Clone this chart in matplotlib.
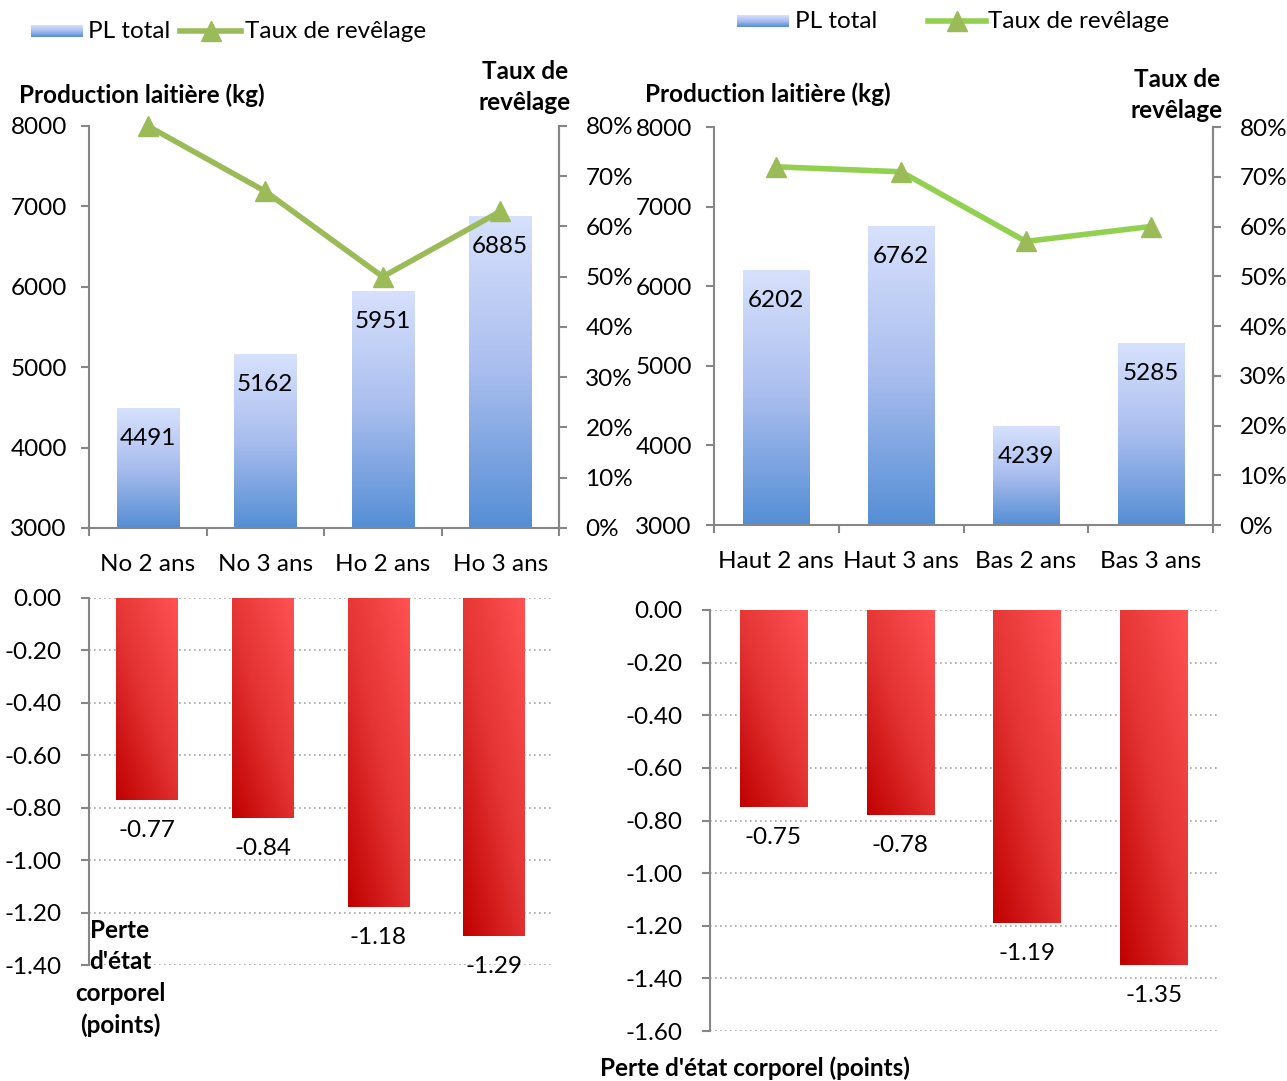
import numpy as np
import matplotlib
matplotlib.use("Agg")
import matplotlib.pyplot as plt
from matplotlib.colors import LinearSegmentedColormap
from matplotlib.lines import Line2D

plt.rcParams['font.family'] = ['Lato', 'DejaVu Sans']

# ---------------- data ----------------
cats_left = ["No 2 ans", "No 3 ans", "Ho 2 ans", "Ho 3 ans"]
pl_left = [4491, 5162, 5951, 6885]
taux_left = [80, 67, 50, 63]
perte_left = [-0.77, -0.84, -1.18, -1.29]

cats_right = ["Haut 2 ans", "Haut 3 ans", "Bas 2 ans", "Bas 3 ans"]
pl_right = [6202, 6762, 4239, 5285]
taux_right = [72, 71, 57, 60]
perte_right = [-0.75, -0.78, -1.19, -1.35]

pl_ticks = [3000, 4000, 5000, 6000, 7000, 8000]
taux_ticks = [0, 10, 20, 30, 40, 50, 60, 70, 80]
perte_ticks_left = [0.0, -0.2, -0.4, -0.6, -0.8, -1.0, -1.2, -1.4]
perte_ticks_right = [0.0, -0.2, -0.4, -0.6, -0.8, -1.0, -1.2, -1.4, -1.6]

# ---------------- style ----------------
W, H = 1287, 1081
fig = plt.figure(figsize=(W / 100, H / 100), dpi=100)
FS = 17.5
GRAY = "#868686"
blue_cmap = LinearSegmentedColormap.from_list("b", ["#558ed5", "#a9bdee", "#d7e1fd"])
red_cmap = LinearSegmentedColormap.from_list("r", ["#c00000", "#e43434", "#ff5252"])


def fax(x0, y0, x1, y1):
    return [x0 / W, 1 - y1 / H, (x1 - x0) / W, (y1 - y0) / H]


def gradient_bars(ax, bars, cmap, kind):
    for b in bars:
        x0, y0 = b.get_x(), b.get_y()
        w, h = b.get_width(), b.get_height()
        n = 200
        yy, xx = np.mgrid[0:1:n * 1j, 0:1:n * 1j]
        if kind == "v":
            z = yy  # 0 bottom -> 1 top
        else:
            z = 0.45 * xx + 0.55 * yy
        ylo, yhi = min(y0, y0 + h), max(y0, y0 + h)
        im = ax.imshow(z, cmap=cmap, origin="lower", aspect="auto",
                       extent=(x0, x0 + w, ylo, yhi), vmin=0, vmax=1, zorder=2,
                       interpolation="bilinear")
        im.set_clip_path(b)
        b.set_facecolor("none")
        b.set_edgecolor("none")


def style_spines(ax, pad):
    for s in ax.spines.values():
        s.set_color(GRAY)
        s.set_linewidth(1.5)
    ax.tick_params(colors=GRAY, labelcolor="black", labelsize=FS, width=1.5, length=6)
    ax.tick_params(axis="y", pad=pad)


def top_chart(rect, cats, pl, taux, line_color, mark_color):
    ax = fig.add_axes(rect)
    x = np.arange(len(cats))
    bars = ax.bar(x, [v - 3000 for v in pl], bottom=3000, width=0.53)
    gradient_bars(ax, bars, blue_cmap, "v")
    ax.set_xlim(-0.5, len(cats) - 0.5)
    ax.set_ylim(3000, 8000)
    ax.set_yticks(pl_ticks)
    ax.set_yticklabels([str(t) for t in pl_ticks])
    ax.set_xticks(np.arange(-0.5, len(cats), 1.0))
    ax.set_xticklabels([])
    ax.set_xticks(x, minor=True)
    ax.set_xticklabels(cats, minor=True, fontsize=FS)
    ax.spines["top"].set_visible(False)
    style_spines(ax, 10)
    ax.tick_params(axis="x", which="minor", length=0, pad=19)
    for xi, v in zip(x, pl):
        ax.annotate(str(v), (xi, v), xytext=(0, -22), textcoords="offset points",
                    ha="center", va="center", fontsize=FS, zorder=5)
    ax2 = ax.twinx()
    ax2.plot(x, taux, color=line_color, lw=4, marker="^", markersize=14,
             markerfacecolor=mark_color, markeredgecolor=mark_color, zorder=6,
             clip_on=False)
    ax2.set_ylim(0, 80)
    ax2.set_yticks(taux_ticks)
    ax2.set_yticklabels([f"{t}%" for t in taux_ticks])
    ax2.spines["top"].set_visible(False)
    style_spines(ax2, 13)
    ax2.spines["left"].set_visible(False)
    ax2.spines["bottom"].set_visible(False)
    return ax, ax2


def bottom_chart(rect, perte, ticks, ymin):
    ax = fig.add_axes(rect)
    x = np.arange(len(perte))
    bars = ax.bar(x, perte, width=0.53)
    gradient_bars(ax, bars, red_cmap, "d")
    ax.set_xlim(-0.5, len(perte) - 0.5)
    ax.set_ylim(ymin, 0)
    ax.set_yticks(ticks)
    ax.set_yticklabels([f"{t:.2f}" for t in ticks])
    ax.set_xticks([])
    for s in ["top", "right", "bottom"]:
        ax.spines[s].set_visible(False)
    style_spines(ax, 14)
    ax.grid(axis="y", color="#a6a6a6", linestyle=(0, (1, 2)), lw=1.2, zorder=0)
    ax.set_axisbelow(True)
    for xi, v in zip(x, perte):
        ax.annotate(f"{v:.2f}", (xi, v), xytext=(0, -22), textcoords="offset points",
                    ha="center", va="center", fontsize=FS, zorder=5,
                    annotation_clip=False)
    return ax


top_chart(fax(89, 126, 559, 528), cats_left, pl_left, taux_left, "#9bbb59", "#9bbb59")
top_chart(fax(714, 127, 1213, 525), cats_right, pl_right, taux_right, "#92d050", "#9bbb59")
bottom_chart(fax(89, 598, 552, 965), perte_left, perte_ticks_left, -1.4)
bottom_chart(fax(710, 610, 1217, 1031), perte_right, perte_ticks_right, -1.6)

# axis titles
def ftext(x, y, s, **kw):
    fig.text(x / W, 1 - y / H, s, fontsize=FS, **kw)

ftext(19, 95, "Production laitière (kg)", fontweight="bold", ha="left", va="center")
ftext(525, 87, "Taux de\nrevêlage", fontweight="bold", ha="center", va="center", linespacing=1.45)
ftext(645, 94, "Production laitière (kg)", fontweight="bold", ha="left", va="center")
ftext(1177, 95, "Taux de\nrevêlage", fontweight="bold", ha="center", va="center", linespacing=1.45)
ftext(120, 978, "Perte\nd'état\ncorporel\n(points)", fontweight="bold", ha="center", va="center", linespacing=1.45)
ftext(755, 1068, "Perte d'état corporel (points)", fontweight="bold", ha="center", va="center")


# legends
def legend(px0, py, tx1, lx0, lx1, tx2, line_color, mark_color):
    lax = fig.add_axes(fax(px0, py - 6, px0 + 52, py + 6))
    g = np.linspace(0, 1, 50).reshape(-1, 1)
    lax.imshow(g, cmap=blue_cmap, aspect="auto", origin="lower")
    lax.axis("off")
    ftext(tx1, py, "PL total", ha="left", va="center")
    fig.add_artist(Line2D([lx0 / W, lx1 / W], [1 - py / H, 1 - py / H], color=line_color, lw=4))
    fig.add_artist(Line2D([(lx0 + lx1) / 2 / W], [1 - py / H], marker="^", markersize=14,
                          color=mark_color, lw=0))
    ftext(tx2, py, "Taux de revêlage", ha="left", va="center")

legend(31, 31, 88, 180, 241, 245, "#9bbb59", "#9bbb59")
legend(737, 21, 795, 928, 986, 988, "#92d050", "#9bbb59")

fig.savefig("out.png", dpi=100)
